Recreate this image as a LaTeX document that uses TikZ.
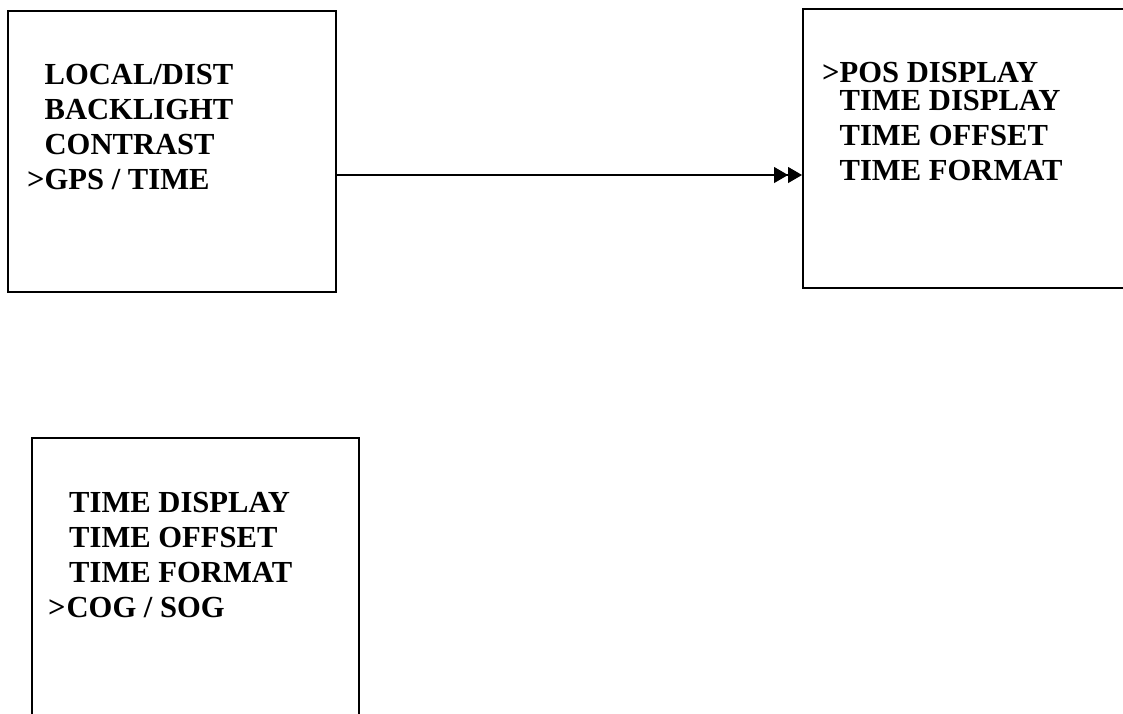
\documentclass[tikz,border=0pt]{standalone}
\usepackage{fontspec}
\setmainfont{Liberation Serif}
\usetikzlibrary{arrows.meta,calc}
\begin{document}
\begin{tikzpicture}[x=1pt,y=-1pt,
 menubox/.style={draw, line width=1.8pt, inner sep=0pt, anchor=north west},
 menutext/.style={anchor=north west, align=left, inner sep=0pt, font=\fontsize{30.6}{35}\selectfont\bfseries},
 link/.style={line width=1.1pt, -{Triangle[length=14pt,width=16pt]Triangle[length=14pt,width=16pt]}}]
\clip (0,0) rectangle (1123,713);
\fill[white] (0,0) rectangle (1123,713);
\node[menubox, minimum width=328pt, minimum height=281pt] (box1) at (7,10) {};
\node[menubox, minimum width=330pt, minimum height=279pt] (box2) at (802,8) {};
\node[menubox, minimum width=327pt, minimum height=290pt] (box3) at (31,437) {};
\node[menutext] (t1) at (27,64) {\phantom{>}LOCAL/DIST\\ \phantom{>}BACKLIGHT\\ \phantom{>}CONTRAST\\ >GPS / TIME};
\node[menutext] (t2) at (822,62) {>POS DISPLAY\\[-7pt] \phantom{>}TIME DISPLAY\\ \phantom{>}TIME OFFSET\\ \phantom{>}TIME FORMAT};
\node[menutext] (t3) at (48,492) {\hspace*{21pt}TIME DISPLAY\\ \hspace*{21pt}TIME OFFSET\\ \hspace*{21pt}TIME FORMAT\\ {\spaceskip=1pt > }COG / SOG};
\coordinate (ay) at (0,175);
\draw[line width=2.4pt] ($(box2.west |- ay)+(-72,0)$) -- ($(box2.west |- ay)+(-24,0)$);
\draw[link] (box1.east |- ay) -- (box2.west |- ay);
\end{tikzpicture}
\end{document}
